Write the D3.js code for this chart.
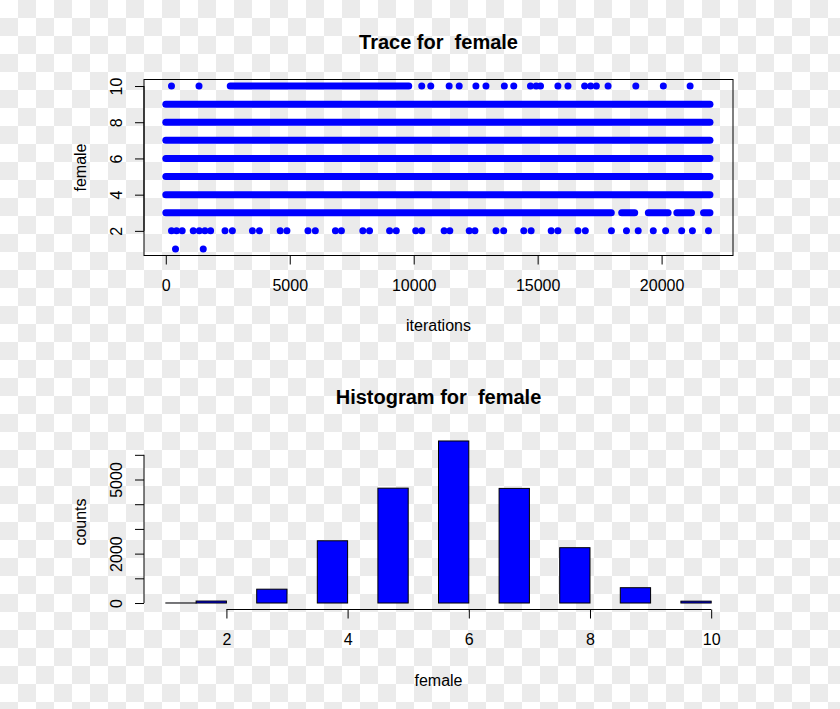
<!DOCTYPE html>
<html><head><meta charset="utf-8">
<script src="https://cdn.jsdelivr.net/npm/d3@7"></script>
<style>body{margin:0;background:#fff;} svg{display:block;} text{font-family:"Liberation Sans",Arial,sans-serif;}</style>
</head><body>
<svg id="chart" width="840" height="709"></svg>
<script>
// ---------------- DATA ----------------
const traceTitle = "Trace for  female";
const histTitle = "Histogram for  female";
const traceXLabel = "iterations";
const traceYLabel = "female";
const histXLabel = "female";
const histYLabel = "counts";

const nIterations = 22000;
// iteration intervals in which a level was sampled densely (dots overlap into a band)
const runLevels = [10, 9, 8, 7, 6, 5, 4, 3, 3, 3, 3, 3];
const runStarts = [2600, 1, 1, 1, 1, 1, 1, 1, 18390, 19465, 20615, 21692];
const runEnds   = [9800, 21950, 21950, 21950, 21950, 21950, 21950, 17970, 18915, 20263, 21206, 21950];
// isolated samples
const level10Iter = [230, 1340, 10324, 10688, 11430, 11835, 12510, 12915, 13656, 14036, 14710, 14940, 15115,
  15817, 16222, 16895, 17140, 17368, 17840, 18960, 20070, 21150];
const level2Iter = [230, 433, 662, 1107, 1350, 1579, 1808, 2389, 2686, 3495, 3778, 4615, 4886, 5735, 6032,
  6842, 7085, 7948, 8219, 9028, 9298, 10081, 10324, 11227, 11457, 12240, 12470, 13320, 13630, 14440, 14737,
  15547, 15817, 16627, 16923, 17976, 18583, 19056, 19664, 20162, 20810, 21243, 21890];
const level1Iter = [392, 1511];

const traceXTicks = [0, 5000, 10000, 15000, 20000];
const traceYTicks = [2, 4, 6, 8, 10];

const histBreaks = [1, 1.5, 2, 2.5, 3, 3.5, 4, 4.5, 5, 5.5, 6, 6.5, 7, 7.5, 8, 8.5, 9, 9.5, 10];
const histCounts = [2, 80, 0, 560, 0, 2520, 0, 4650, 0, 6560, 0, 4640, 0, 2240, 0, 620, 0, 75];
const histXTicks = [2, 4, 6, 8, 10];
const histYTicks = [0, 1000, 2000, 3000, 4000, 5000, 6000];
const histYTickLabels = ["0", "", "2000", "", "", "5000", ""];

// ---------------- LAYOUT ----------------
const svg = d3.select("#chart");
const BLUE = "#0000ff";
const P1 = {left: 144, right: 733, top: 79.5, bottom: 255.5};
const P2 = {left: 144, right: 733, top: 434.5, bottom: 609.5};
const rExt = ([a, b]) => { const d = (b - a) * 0.04; return [a - d, b + d]; };

// checkerboard (transparent background indicator)
const defs = svg.append("defs");
const pat = defs.append("pattern").attr("id", "checker").attr("patternUnits", "userSpaceOnUse")
  .attr("width", 36).attr("height", 36);
pat.append("rect").attr("width", 36).attr("height", 36).attr("fill", "#ffffff");
pat.append("rect").attr("x", 18).attr("y", 0).attr("width", 18).attr("height", 18).attr("fill", "#ebebeb");
pat.append("rect").attr("x", 0).attr("y", 18).attr("width", 18).attr("height", 18).attr("fill", "#ebebeb");
svg.append("rect").attr("width", 840).attr("height", 709).attr("fill", "url(#checker)");

function styleAxis(g) {
  g.selectAll("path,line").attr("stroke", "#000").attr("stroke-width", 1);
  g.selectAll("text").attr("fill", "#000").style("font-size", "16px")
    .style("font-family", '"Liberation Sans",Arial,sans-serif');
}

// ---------------- TRACE ----------------
const xT = d3.scaleLinear().domain(rExt([1, nIterations])).range([P1.left, P1.right]);
const yT = d3.scaleLinear().domain(rExt([1, 10])).range([P1.bottom, P1.top]);

const traceG = svg.append("g");
const runs = runLevels.map((v, i) => ({v, s: runStarts[i], e: runEnds[i]}));
traceG.selectAll("line.run").data(runs).join("line").attr("class", "run")
  .attr("x1", d => xT(d.s)).attr("x2", d => xT(d.e))
  .attr("y1", d => yT(d.v)).attr("y2", d => yT(d.v))
  .attr("stroke", BLUE).attr("stroke-width", 7).attr("stroke-linecap", "round");
const pts = [].concat(level10Iter.map(i => ({i, v: 10})), level2Iter.map(i => ({i, v: 2})), level1Iter.map(i => ({i, v: 1})));
traceG.selectAll("circle").data(pts).join("circle")
  .attr("cx", d => xT(d.i)).attr("cy", d => yT(d.v)).attr("r", 3.5).attr("fill", BLUE);

svg.append("rect").attr("x", P1.left).attr("y", P1.top)
  .attr("width", P1.right - P1.left).attr("height", P1.bottom - P1.top)
  .attr("fill", "none").attr("stroke", "#000").attr("stroke-width", 1);

const gx1 = svg.append("g").attr("transform", `translate(0,${P1.bottom})`)
  .call(d3.axisBottom(xT).tickValues(traceXTicks).tickFormat(d3.format("d")).tickSize(9).tickSizeOuter(0).tickPadding(15));
gx1.select(".domain").attr("d", `M${xT(traceXTicks[0])},0H${xT(traceXTicks[traceXTicks.length - 1])}`);
styleAxis(gx1);

const gy1 = svg.append("g").attr("transform", `translate(${P1.left},0)`)
  .call(d3.axisLeft(yT).tickValues(traceYTicks).tickFormat(d3.format("d")).tickSize(9).tickSizeOuter(0));
gy1.select(".domain").attr("d", `M0,${yT(traceYTicks[0])}V${yT(traceYTicks[traceYTicks.length - 1])}`);
gy1.selectAll(".tick text").attr("x", null).attr("dy", null)
  .attr("text-anchor", "middle").attr("transform", "translate(-22.3,0) rotate(-90)");
styleAxis(gy1);

// ---------------- HISTOGRAM ----------------
const xH = d3.scaleLinear().domain(rExt([histBreaks[0], histBreaks[histBreaks.length - 1]])).range([P2.left, P2.right]);
const yH = d3.scaleLinear().domain(rExt([0, d3.max(histCounts)])).range([P2.bottom, P2.top]);
const bins = histCounts.map((c, i) => ({x0: histBreaks[i], x1: histBreaks[i + 1], c}));
svg.append("g").selectAll("rect").data(bins).join("rect")
  .attr("x", d => xH(d.x0)).attr("width", d => xH(d.x1) - xH(d.x0))
  .attr("y", d => yH(d.c)).attr("height", d => yH(0) - yH(d.c))
  .attr("fill", BLUE).attr("stroke", "#000").attr("stroke-width", 1);

const gx2 = svg.append("g").attr("transform", `translate(0,${P2.bottom})`)
  .call(d3.axisBottom(xH).tickValues(histXTicks).tickFormat(d3.format("d")).tickSize(9).tickSizeOuter(0).tickPadding(15));
gx2.select(".domain").attr("d", `M${xH(histXTicks[0])},0H${xH(histXTicks[histXTicks.length - 1])}`);
styleAxis(gx2);

const gy2 = svg.append("g").attr("transform", `translate(${P2.left},0)`)
  .call(d3.axisLeft(yH).tickValues(histYTicks).tickFormat((d, i) => histYTickLabels[i]).tickSize(9).tickSizeOuter(0));
gy2.select(".domain").attr("d", `M0,${yH(histYTicks[0])}V${yH(histYTicks[histYTicks.length - 1])}`);
gy2.selectAll(".tick text").attr("x", null).attr("dy", null)
  .attr("text-anchor", "middle").attr("transform", "translate(-22.3,0) rotate(-90)");
styleAxis(gy2);

// ---------------- TEXT ----------------
const cx = (P1.left + P1.right) / 2;
function label(x, y, txt, opts = {}) {
  const t = svg.append("text").attr("x", x).attr("y", y).attr("text-anchor", "middle")
    .style("white-space", "pre").style("font-size", opts.size || "16px")
    .style("font-weight", opts.bold ? "bold" : "normal").attr("fill", "#000").text(txt);
  if (opts.rot) t.attr("transform", `rotate(-90,${x},${y})`);
  return t;
}
label(cx, 49.3, traceTitle, {size: "20px", bold: true});
label(cx, 404, histTitle, {size: "20px", bold: true});
label(cx, 330.7, traceXLabel);
label(cx, 685.7, histXLabel);
label(86, (P1.top + P1.bottom) / 2, traceYLabel, {rot: true});
label(86, (P2.top + P2.bottom) / 2, histYLabel, {rot: true});
</script>
</body></html>
